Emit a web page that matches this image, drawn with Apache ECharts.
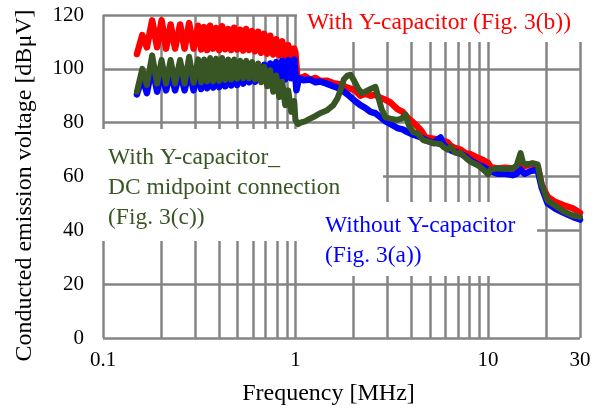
<!DOCTYPE html>
<html>
<head>
<meta charset="utf-8">
<script src="https://cdn.jsdelivr.net/npm/echarts@6/dist/echarts.min.js"></script>
<style>
  html, body { margin: 0; padding: 0; background: #fff; }
  #main { width: 606px; height: 417px; }
</style>
</head>
<body>
<div id="main"></div>
<script>
    // 0.15 - 1 MHz: same frequency points for the three measurements [MHz]
    var lowFreq = [
        0.150, 0.160, 0.169, 0.180, 0.191, 0.2015, 0.2126, 0.2244, 0.2368, 0.2514, 0.2653, 0.2801, 0.2955, 0.3119,
        0.3233, 0.3351, 0.3474, 0.3601, 0.3733, 0.3869, 0.4011, 0.4157, 0.4309, 0.4467, 0.4630, 0.4800,
        0.4975, 0.5157, 0.5346, 0.5541, 0.5744, 0.5954, 0.6172, 0.6397, 0.6631, 0.6874, 0.7125, 0.7386,
        0.7656, 0.7936, 0.8226, 0.8527, 0.8839, 0.9162, 0.9497, 0.9845
    ];
    // levels [dBuV] at lowFreq
    var redLow = [
        105.5, 112.5, 108, 118, 108, 118, 107.5, 116.5, 107.5, 116.5, 107.5, 117, 107.5, 116,
        107.2, 115.5, 107, 116, 107.5, 115.2, 107, 115.8, 107.3, 114.8, 107, 115.3,
        107.2, 114.5, 106.8, 114.8, 107, 114, 106.5, 113.8, 106, 113, 105.6, 112.3,
        105.3, 111, 105, 110.2, 104.5, 108.8, 104.2, 107.5
    ];
    var blueLow = [
        90.5, 97, 91, 101, 91.5, 99.5, 92, 99, 92, 99, 92, 99.5, 92, 99,
        92.5, 99, 92.8, 99, 93, 99.5, 93.2, 99, 93.5, 99.5, 93.8, 99.5,
        94, 100, 94.5, 100, 95, 100.5, 95.2, 101, 95.5, 101.5, 96, 102,
        96, 102.5, 96.2, 103, 96, 103.2, 96.5, 103.5
    ];
    var greenLow = [
        91.5, 100, 94, 105, 94.5, 103.3, 94.5, 103.3, 94.5, 103.3, 94.5, 104.5, 94.8, 103.5,
        95, 103.5, 95.3, 104, 95.3, 103.8, 95.5, 104, 95.8, 103.5, 96, 103.5,
        96.3, 103, 96.5, 103, 96.5, 102.5, 96, 102, 95, 100.8, 93.5, 99.5,
        91.5, 97.5, 89.5, 95.2, 86.5, 92, 84, 88
    ];

    // 1 - 30 MHz: [frequency MHz, level dBuV]
    var redHigh = [
        [0.998,106],[1.02,97.3],[1.06,96.5],[1.12,97.3],[1.19,96],[1.27,96.6],[1.34,95.5],[1.45,95.6],[1.57,94.7],[1.71,94.2],
        [1.86,93],[2.04,92],[2.17,90],[2.3,90.8],[2.45,90],[2.6,90.4],[2.76,89.2],[2.93,88.5],[3.11,87.5],
        [3.38,85],[3.6,84],[3.81,82],[4.09,80],[4.3,78.5],[4.5,77],[4.73,74.5],[5.0,74.2],[5.2,74],[5.66,73.5],
        [6.15,72.8],[6.38,71.5],[6.77,70.5],[7.19,70],[7.63,68.7],[8.1,68.3],[8.8,67],[9.47,66],[10.0,65],
        [10.3,63.5],[11.2,63],[12.3,63.3],[13.4,63],[14.05,63.6],[14.74,64.5],[15.46,63.8],[16.6,64.5],[18.07,64],
        [18.96,57],[20.37,52.5],[22.4,50.5],[24.7,49.3],[27.5,48.2],[30,46.5]
    ];
    var blueHigh = [
        [0.998,104],[1.01,92],[1.04,96.5],[1.1,95.8],[1.19,96],[1.27,95],[1.34,95.3],[1.45,94.5],[1.57,93.5],[1.71,92.5],
        [1.86,90.5],[2.04,88],[2.17,86.5],[2.3,85.5],[2.45,84],[2.6,83.5],[2.76,82],[2.93,80.5],[3.11,79.5],
        [3.38,78],[3.6,77.5],[3.81,76.5],[4.09,75.5],[4.3,75],[4.5,74.5],[4.73,73.5],[5.0,73],[5.2,72.4],
        [5.5,73.8],[5.66,74.5],[5.86,72],[6.15,70.5],[6.5,69.5],[7.19,68.5],[7.63,67.5],[8.1,66],[8.8,64.5],
        [9.47,63.5],[10.3,62],[11.2,61],[12.3,61],[13.4,60.5],[14.05,61],[14.74,62.5],[15.46,61],[16.6,62],
        [18.07,62.5],[18.96,56],[20.37,50],[22.4,48],[24.7,46.5],[27.5,45],[30,44]
    ];
    var greenHigh = [
        [0.998,81],[1.03,79.5],[1.06,80],[1.12,80.5],[1.19,81.5],[1.27,82.5],[1.34,83.5],[1.45,84.5],[1.57,86.5],
        [1.65,89],[1.71,92],[1.78,96],[1.86,97.5],[1.93,97.8],[2.0,96],[2.1,93],[2.2,91],[2.3,91.5],
        [2.45,92.5],[2.6,93.3],[2.7,89],[2.8,85],[2.93,82],[3.1,81.5],[3.38,81],[3.55,81.5],[3.72,83],
        [3.9,78.5],[4.09,76.5],[4.3,76],[4.6,73.5],[5.2,72.4],[5.66,72],[5.86,71],[6.15,70],[6.38,71],
        [6.77,68.8],[7.19,68.7],[7.63,67],[8.1,65.5],[8.8,64.3],[9.47,62.5],[10.0,60.8],[10.3,62.5],[11.2,63],
        [12.3,62.8],[13.4,63],[14.05,64],[14.74,68.7],[15.2,65],[16.0,64.5],[17.0,65],[18.07,64.5],
        [18.96,57],[20.37,51],[22.4,49],[24.7,47],[27.5,45.5],[30,45]
    ];

    var gridFreqs = [0.1,0.2,0.3,0.4,0.5,0.6,0.7,0.8,0.9,1,2,3,4,5,6,7,8,9,10,20,30];
    var freqLabels = [0.1, 1, 10, 30];

    var FONT = "'Liberation Serif', 'Times New Roman', serif";
    var GRID_COLOR = '#858585';
    var RED = '#ff0000', BLUE = '#0000ff', GREEN = '#375623';

    var chartDom = document.getElementById('main');
    var myChart = echarts.init(chartDom);

    function joinData(low, high) {
        return lowFreq.map(function (f, i) { return [f, low[i]]; }).concat(high);
    }

    function lineSeries(name, data, color, width) {
        return {
            name: name,
            type: 'line',
            data: data,
            showSymbol: false,
            symbol: 'none',
            lineStyle: { color: color, width: width, cap: 'round', join: 'round' }
        };
    }

    var option = {
        animation: false,
        grid: { left: 103, right: 26, top: 15, bottom: 79 },
        xAxis: {
            type: 'log',
            logBase: 10,
            min: 0.1,
            max: 30,
            name: 'Frequency [MHz]',
            nameLocation: 'middle',
            nameGap: 44,
            nameTextStyle: { fontFamily: FONT, fontSize: 24, color: '#000', padding: [0, 26, 0, 0] },
            axisLine: { show: false },
            axisTick: { show: false, customValues: gridFreqs },
            axisLabel: {
                customValues: freqLabels,
                fontFamily: FONT, fontSize: 21, color: '#000', margin: 12,
                formatter: function (v) { return String(v); }
            },
            splitLine: { show: true, lineStyle: { color: GRID_COLOR, width: 2.5 } }
        },
        yAxis: {
            type: 'value',
            min: 0,
            max: 120,
            interval: 20,
            name: 'Conducted emission voltage [dBμV]',
            nameLocation: 'middle',
            nameGap: 66,
            nameTextStyle: { fontFamily: FONT, fontSize: 24, color: '#000', padding: [0, 18, 0, 0] },
            axisLine: { show: false },
            axisTick: { show: false },
            axisLabel: { fontFamily: FONT, fontSize: 21, color: '#000', margin: 19 },
            splitLine: { show: true, lineStyle: { color: GRID_COLOR, width: 2.5 } }
        },
        graphic: [
            { type: 'rect', z: 1, shape: { x: 297, y: 0, width: 290, height: 42 }, style: { fill: '#fff' } },
            { type: 'rect', z: 1, shape: { x: 98, y: 129, width: 285, height: 112 }, style: { fill: '#fff' } },
            { type: 'rect', z: 1, shape: { x: 298, y: 202, width: 239, height: 74 }, style: { fill: '#fff' } },
            { type: 'text', z: 5, left: 307, top: 11, style: { text: 'With Y-capacitor (Fig. 3(b))', fill: RED, font: '23.5px ' + FONT } },
            { type: 'text', z: 5, left: 108, top: 143, style: { text: 'With Y-capacitor_\nDC midpoint connection\n(Fig. 3(c))', fill: GREEN, font: '23.5px ' + FONT, lineHeight: 30 } },
            { type: 'text', z: 5, left: 325, top: 211, style: { text: 'Without Y-capacitor\n(Fig. 3(a))', fill: BLUE, font: '23.5px ' + FONT, lineHeight: 30 } }
        ],
        series: [
            lineSeries('With Y-capacitor', joinData(redLow, redHigh), RED, 6.5),
            lineSeries('Without Y-capacitor', joinData(blueLow, blueHigh), BLUE, 6.5),
            lineSeries('With Y-capacitor_DC midpoint connection', joinData(greenLow, greenHigh), GREEN, 6)
        ]
    };

    myChart.setOption(option);
</script>
</body>
</html>
